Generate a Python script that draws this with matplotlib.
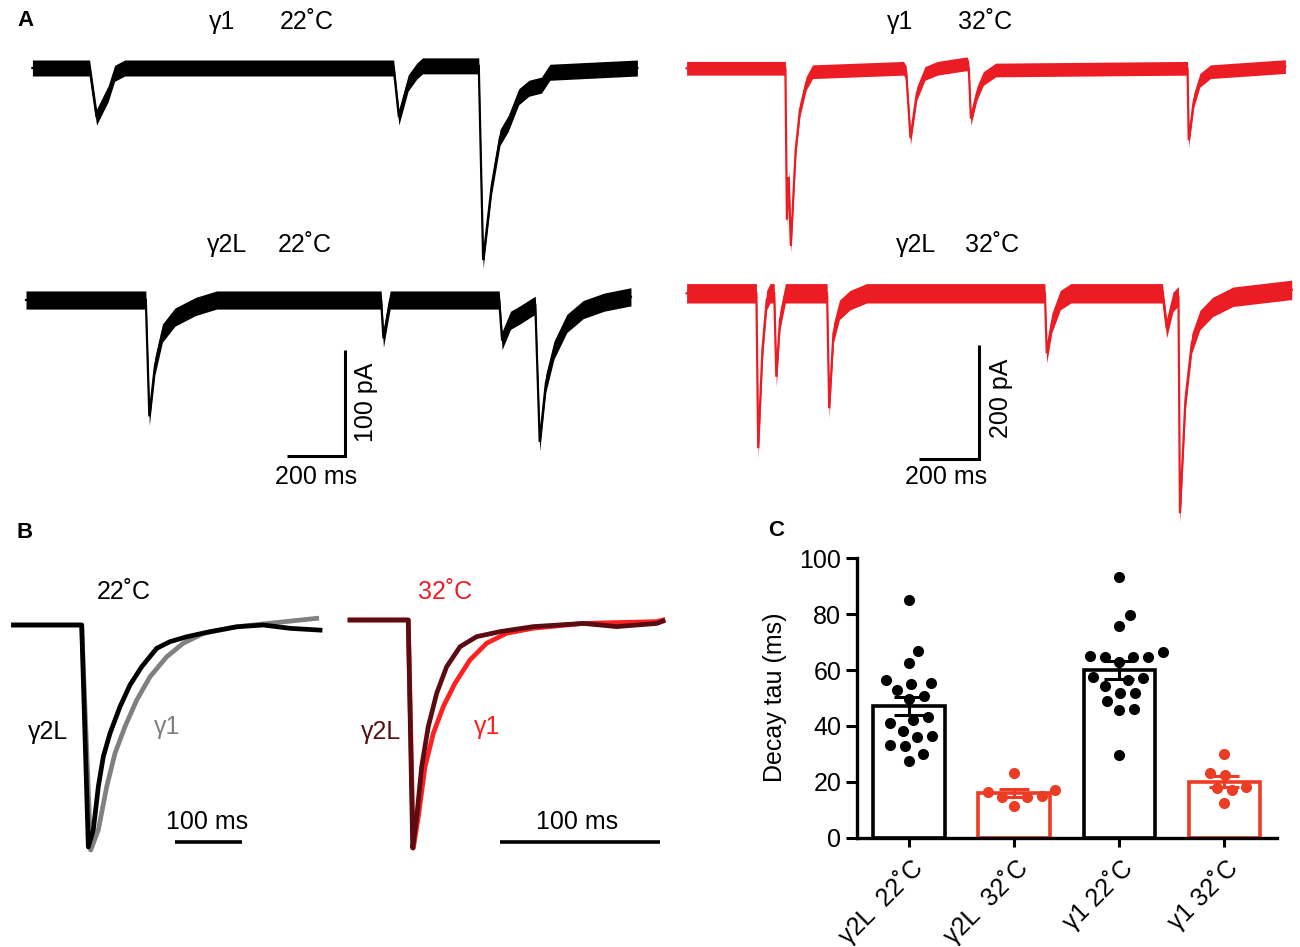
import numpy as np
import matplotlib.pyplot as plt

W, H = 1300, 947
plt.rcParams['font.family'] = ['Liberation Sans', 'DejaVu Sans']
plt.rcParams['font.size'] = 18

RED_A = '#ec1c24'
RED_C = '#ec3c23'
DARK_RED = '#5a0c12'

# ---- panel A: sEPSC traces, vertices (ms, pA) ----
g1_22_t = [22, 218, 242, 282, 304, 339, 1261, 1279, 1311, 1340, 1360,
           1553, 1568, 1597, 1626, 1654, 1690, 1725, 1768, 1797, 2097]
g1_22_pA = [0, 0, -46, -24, -5, 0, 0, -46, -14, -3, 2,
            2, -180, -111, -65, -52, -27, -19, -16, -4, 0]

g2L_22_t = [0, 411, 423, 442, 468, 511, 582, 654, 1218, 1226, 1249,
            1623, 1633, 1662, 1694, 1740, 1747, 1762, 1783, 1811, 1855, 1911, 1983, 2075]
g2L_22_pA = [0, 0, -109, -62, -31, -16, -6, 0, 0, -36, 0,
             0, -38, -19, -14, -6, -5, -133, -78, -47, -22, -9, -2, 3]

g1_32_t = [2, 329, 334, 340, 347, 363, 377, 398, 419, 720, 729, 743, 764, 791, 832,
           930, 936, 943, 963, 984, 1025, 1660, 1664, 1681, 1701, 1736, 1984]
g1_32_pA = [0, 0, -265, -190, -311, -143, -73, -26, -6, 0, -8, -122, -44, -9, 0,
            8, 0, -88, -44, -18, -3, 0, -126, -56, -21, -6, 3]

g2L_32_t = [2, 233, 239, 253, 267, 278, 292, 299, 311, 329, 467, 474, 488, 508, 543, 598,
            1188, 1194, 1211, 1239, 1274, 1577, 1591, 1612, 1630, 1635, 1653, 1674,
            1701, 1743, 1811, 2005]
g2L_32_pA = [0, 0, -271, -99, -12, 0, 0, -146, -47, 0, 0, -201, -70, -29, -12, 0,
             0, -105, -52, -12, 0, 0, -61, -15, -5, -385, -187, -88,
             -47, -24, -6, 6]

# ---- panel B: normalised averaged events (ms, fraction of peak) ----
b22_g2L_t = [0, 101.6, 111.5, 118.9, 126.4, 133.8, 143.8, 158.7, 173.6, 191, 213.4,
             233.2, 258.1, 292.8, 332.6, 372.2, 412, 456.7]
b22_g2L = [0, 0, -1.0, -0.923, -0.728, -0.593, -0.488, -0.368, -0.27, -0.188, -0.105,
           -0.075, -0.053, -0.03, -0.008, 0, -0.015, -0.023]
b22_g1_t = [0, 101.6, 115, 126.4, 138.9, 151.2, 166.1, 183.6, 203.4, 228.3, 253,
            282.8, 332.6, 382.2, 451.8]
b22_g1 = [0, 0, -1.014, -0.923, -0.728, -0.578, -0.458, -0.338, -0.233, -0.143, -0.082,
          -0.038, -0.008, 0.008, 0.03]

b32_g2L_t = [0, 36.4, 39.2, 41.7, 44.8, 48.9, 54.2, 60.4, 68.8, 79.2, 93.8, 114.6,
             145.8, 166.7, 191.7, 195.6]
b32_g2L = [0, 0, -1.0, -0.863, -0.643, -0.468, -0.321, -0.205, -0.117, -0.073, -0.051,
           -0.029, -0.015, -0.029, -0.015, -0.005]
b32_g1_t = [0, 36.4, 39.6, 42.7, 46.9, 52.1, 58.3, 65.6, 75, 85.4, 97.9, 114.6, 145.8,
            191.7, 195.6]
b32_g1 = [0, 0, -1.0, -0.863, -0.643, -0.497, -0.38, -0.278, -0.175, -0.102, -0.058,
          -0.036, -0.015, -0.007, 0]

# ---- panel C: decay tau (ms) ----
groups = ['γ2L  22˚C', 'γ2L  32˚C', 'γ1 22˚C', 'γ1 32˚C']
tau_g2L_22 = [85.1, 67, 62.6, 54.9, 56.4, 55.3, 52.9, 50.7, 49.5, 40.9, 42.1,
              43.3, 38.2, 36.4, 36.2, 32.8, 33.2, 29.8, 27.6]
tau_g2L_32 = [23.3, 16.5, 14.5, 14.8, 14.5, 17.1, 11.5]
tau_g1_22 = [93.4, 79.7, 75.8, 66.6, 64.8, 64.8, 65.2, 64.8, 63, 57, 57.6,
             56.4, 54.3, 51.7, 51.7, 49, 46.1, 45.7, 29.6]
tau_g1_32 = [29.8, 23, 22.4, 17.9, 17, 18.3, 12.3]
group_colors = ['black', RED_C, 'black', RED_C]

fig = plt.figure(figsize=(W / 100, H / 100), dpi=100)


def px_axes(box, x_org, y_org, xs, ys):
    # box in pixels (x0, y0, x1, y1); data = (px - x_org)*xs, -(py - y_org)*ys
    x0, y0, x1, y1 = box
    ax = fig.add_axes([x0 / W, 1 - y1 / H, (x1 - x0) / W, (y1 - y0) / H])
    ax.set_xlim((x0 - x_org) * xs, (x1 - x_org) * xs)
    ax.set_ylim(-(y1 - y_org) * ys, -(y0 - y_org) * ys)
    ax.axis('off')
    return ax


def ftext(x, y, s, **kw):
    fig.text(x / W, 1 - y / H, s, ha='center', va='center', **kw)


def trace(ax, t, v, color, noise, offset=0.0, lw=1.6):
    t = np.asarray(t, float)
    v = np.asarray(v, float) + offset
    ax.fill_between(t, v - noise, v + noise, color=color, lw=0)
    ax.plot(t, v, color=color, lw=lw, solid_joinstyle='miter')


def scalebar(ax, x, y, dx, dy, lw=2.2):
    ax.plot([x - dx, x, x], [y, y, y + dy], color='black', lw=lw,
            solid_capstyle='butt', solid_joinstyle='miter')


# panel A left (22 C)
axL = px_axes((10, 10, 650, 500), 26, 68, 3.43, 0.937)
trace(axL, g1_22_t, g1_22_pA, 'black', 7.5)
trace(axL, g2L_22_t, g2L_22_pA, 'black', 8.5, offset=-217.4)
scalebar(axL, 1094, -364, 200, 100)

# panel A right (32 C)
axR = px_axes((660, 10, 1300, 520), 686, 68.3, 3.31, 1.75)
trace(axR, g1_32_t, g1_32_pA, RED_A, 12)
trace(axR, g2L_32_t, g2L_32_pA, RED_A, 17, offset=-393.75)
scalebar(axR, 970, -684, 200, 200)

ftext(25, 21, 'A', fontsize=16, fontweight='bold')
ftext(222, 22, 'γ1')
ftext(307, 22, '22˚C')
ftext(227, 245, 'γ2L')
ftext(305, 245, '22˚C')
ftext(900, 22, 'γ1')
ftext(985, 22, '32˚C')
ftext(916, 245, 'γ2L')
ftext(992, 245, '32˚C')
ftext(316, 477, '200 ms')
ftext(366, 402, '100 pA', rotation=90)
ftext(946, 477, '200 ms')
ftext(1001, 398, '200 pA', rotation=90)

# panel B
axB1 = px_axes((0, 560, 340, 870), 13.5, 625, 1.49, 1 / 222)
axB1.plot(b22_g1_t, b22_g1, color='#808080', lw=3.4)
axB1.plot(b22_g2L_t, b22_g2L, color='black', lw=3.4)
axB1.plot([240.6, 340.5], [-0.976, -0.976], color='black', lw=2.6, solid_capstyle='butt')

axB2 = px_axes((340, 560, 680, 870), 350, 620, 0.625, 1 / 228)
axB2.plot(b32_g1_t, b32_g1, color='#ff2020', lw=3.4)
axB2.plot(b32_g2L_t, b32_g2L, color=DARK_RED, lw=3.4)
axB2.plot([93.9, 193.9], [-0.972, -0.972], color='black', lw=2.6, solid_capstyle='butt')

ftext(25, 532, 'B', fontsize=16, fontweight='bold')
ftext(124, 592, '22˚C')
ftext(48, 732, 'γ2L')
ftext(167, 727, 'γ1', color='#808080')
ftext(207, 822, '100 ms')
ftext(445, 592, '32˚C', color='#e8202a')
ftext(381, 732, 'γ2L', color=DARK_RED)
ftext(487, 727, 'γ1', color='#ff2020')
ftext(577, 822, '100 ms')

# panel C
cx0, cx1, cy_top, cy_bot = 856.5, 1277, 558.3, 837.7
axC = fig.add_axes([cx0 / W, 1 - cy_bot / H, (cx1 - cx0) / W, (cy_bot - cy_top) / H])
axC.set_xlim(-0.5, 3.5)
axC.set_ylim(0, 100)

ppx = (cx1 - cx0) / 4
ppy = (cy_bot - cy_top) / 100
gap = 15.0  # swarm spacing between dot centres, px


def swarm(vals):
    vals = np.asarray(vals, float)
    placed = []
    offs = np.zeros(len(vals))
    for i in np.argsort(vals):
        y = vals[i] * ppy
        cands = [0.0]
        for a, b in placed:
            dy = y - b
            if abs(dy) < gap:
                dx = np.sqrt(gap ** 2 - dy ** 2)
                cands += [a + dx, a - dx]
        ok = [c for c in cands
              if all((c - a) ** 2 + (y - b) ** 2 >= gap ** 2 - 1e-6 for a, b in placed)]
        best = min(ok, key=abs)
        placed.append((best, y))
        offs[i] = best / ppx
    return offs


all_tau = [tau_g2L_22, tau_g2L_32, tau_g1_22, tau_g1_32]
means = [np.mean(v) for v in all_tau]
sems = [np.std(v, ddof=1) / np.sqrt(len(v)) for v in all_tau]
xpos = np.arange(len(groups))

axC.bar(xpos, means, width=0.68, facecolor='white', edgecolor=group_colors, lw=2.6, zorder=2)
for i, vals in enumerate(all_tau):
    axC.scatter(xpos[i] + swarm(vals), vals, s=64, color=group_colors[i],
                lw=0, zorder=3, clip_on=False)
    axC.errorbar(xpos[i], means[i], yerr=sems[i], fmt='none', ecolor=group_colors[i],
                 elinewidth=2.2, capsize=10.5, capthick=2.2, zorder=4)

for s in ['top', 'right']:
    axC.spines[s].set_visible(False)
for s in ['left', 'bottom']:
    axC.spines[s].set_linewidth(2.4)
axC.set_yticks([0, 20, 40, 60, 80, 100])
axC.set_xticks(xpos)
axC.set_xticklabels(groups, rotation=45, ha='right', rotation_mode='anchor')
axC.tick_params(axis='y', length=8, width=2.2, labelsize=18, pad=3)
axC.tick_params(axis='x', length=6.5, width=2.2, labelsize=18, pad=6)
ftext(775, 697, 'Decay tau (ms)', rotation=90)
ftext(776, 530, 'C', fontsize=16, fontweight='bold')

fig.savefig('out.png', dpi=100)
